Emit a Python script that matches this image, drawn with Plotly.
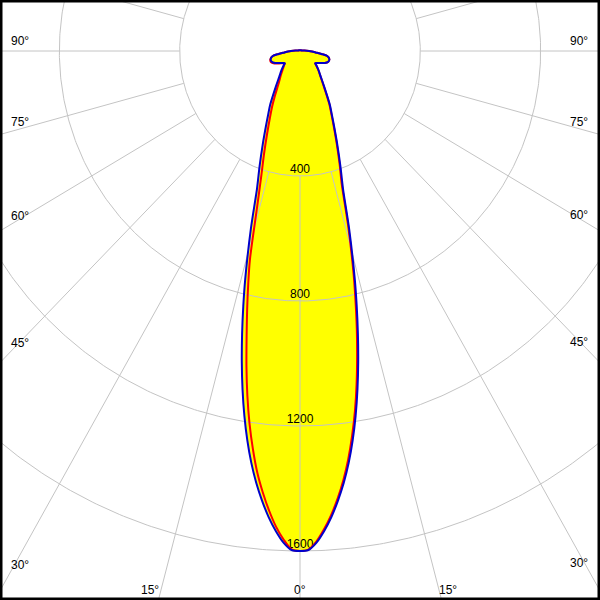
import numpy as np
import plotly.graph_objects as go

# ---- data (gamma angle in degrees, intensity in cd) ----
gamma_deg = [0, 1, 2, 3, 4, 5, 6, 7, 8, 9, 10, 11, 12, 13, 14, 16, 18, 20, 22.5, 25, 27.5, 30,
             35, 40, 45, 50, 52, 55, 60, 65, 70, 75, 80, 82.5, 85, 87.5, 90, 95, 100,
             110, 120, 135, 150, 165, 180]
# C0 / C180 plane (blue)
c0_c180_cd = [1600, 1597, 1574, 1538, 1495, 1445, 1390, 1328, 1258, 1182, 1100, 1014, 926, 838, 753,
              593, 462, 393, 324, 270, 229, 198, 141, 107, 87, 70, 64, 67, 77, 91, 100,
              101, 92, 72, 52, 40, 30, 15, 8, 5, 4.4, 3, 2.5, 2.3, 2.2]
# C90 plane (red, right half)
c90_cd = [1600, 1596, 1570, 1532, 1488, 1437, 1380, 1316, 1244, 1167, 1083, 995, 908, 820, 737,
          580, 450, 385, 318, 265, 225, 194, 138, 106, 86, 70, 64, 67, 77, 91, 100,
          101, 92, 72, 52, 40, 30, 15, 8, 5, 4.4, 3, 2.5, 2.3, 2.2]
# C270 plane (red, left half)
c270_cd = [1600, 1595, 1564, 1524, 1474, 1418, 1357, 1284, 1205, 1118, 1025, 930, 845, 765, 688,
           515, 414, 349, 285, 237, 201, 168, 122, 98, 80, 68, 64, 68, 80, 94, 103,
           102, 92, 72, 52, 40, 30, 15, 8, 5, 4.4, 3, 2.5, 2.3, 2.2]

ring_cd = [400, 800, 1200, 1600]
ring_labels = ["400", "800", "1200", "1600"]
spoke_deg = [0, 15, 30, 45, 60, 75, 90, 105, 120, 135, 150, 165, 180]
label_deg = [0, 15, 30, 45, 60, 75, 90]

# ---- layout geometry ----
W = H = 600
X_HALF = 997.3
Y_TOP = 163.2
Y_BOTTOM = -1756.8
sx = W / (2 * X_HALF)
sy = H / (Y_TOP - Y_BOTTOM)

FONT = dict(family="Liberation Sans, Arial, sans-serif", size=12, color="black")
GRID = "#c4c4c4"


def contour(left, right):
    g = np.radians(gamma_deg)
    l = np.asarray(left, float)
    r = np.asarray(right, float)
    xl, yl = -l * np.sin(g), -l * np.cos(g)
    xr, yr = (r * np.sin(g))[::-1], (-r * np.cos(g))[::-1]
    return np.concatenate([xl, xr]), np.concatenate([yl, yr])


fig = go.Figure()

# yellow filled light distribution
bx, by = contour(c0_c180_cd, c0_c180_cd)
fig.add_trace(go.Scatter(x=bx, y=by, mode="lines", fill="toself", fillcolor="#ffff00",
                         line=dict(width=0, color="rgba(0,0,0,0)", shape="spline", smoothing=0.8),
                         hoverinfo="skip"))

# grid: rings and spokes
gx, gy = [], []
t = np.linspace(0, 2 * np.pi, 721)
for r in ring_cd:
    gx += list(r * np.sin(t)) + [None]
    gy += list(r * np.cos(t)) + [None]
r_in = ring_cd[0]
r_out = 5000
for a in spoke_deg:
    ar = np.radians(a)
    for s in ([1] if a in (0, 180) else [-1, 1]):
        gx += [s * r_in * np.sin(ar), s * r_out * np.sin(ar), None]
        gy += [-r_in * np.cos(ar), -r_out * np.cos(ar), None]
fig.add_trace(go.Scatter(x=gx, y=gy, mode="lines", line=dict(color=GRID, width=1),
                         hoverinfo="skip"))

# ring labels (drawn under the curves)
fig.add_trace(go.Scatter(x=[0] * len(ring_cd), y=[-r for r in ring_cd], mode="text",
                         text=ring_labels, textposition="top center",
                         textfont=FONT, hoverinfo="skip"))

# red and blue curves
rx, ry = contour(c270_cd, c90_cd)
fig.add_trace(go.Scatter(x=rx, y=ry, mode="lines",
                         line=dict(color="#ff0000", width=2, shape="spline", smoothing=0.8),
                         hoverinfo="skip"))
fig.add_trace(go.Scatter(x=bx, y=by, mode="lines",
                         line=dict(color="#0000cc", width=2, shape="spline", smoothing=0.8),
                         hoverinfo="skip"))

# angle labels
ann = []
y_bot_label = Y_BOTTOM + 10.5 / sy
for a in label_deg:
    ar = np.radians(a)
    for s in ([0] if a == 0 else [-1, 1]):
        if a == 0:
            ann.append(dict(x=0, y=y_bot_label, text=f"{a}°", xanchor="center",
                            yanchor="middle"))
            continue
        x_side = s * (X_HALF - (9 if s < 0 else 10) / sx)
        y_side = -abs(x_side) / np.tan(ar) if a != 90 else 0.0
        if y_side >= y_bot_label:
            ann.append(dict(x=x_side, y=y_side, text=f"{a}°",
                            xanchor="left" if s < 0 else "right",
                            yanchor="bottom", yshift=1))
        else:
            xb = s * abs(y_bot_label) * np.tan(ar)
            ann.append(dict(x=xb, y=y_bot_label, text=f"{a}°",
                            xanchor="right" if s < 0 else "left",
                            yanchor="middle", xshift=0 if s < 0 else -2))
for d in ann:
    d.update(showarrow=False, font=FONT, xref="x", yref="y")

fig.update_layout(
    width=W, height=H, margin=dict(l=0, r=0, t=0, b=0),
    paper_bgcolor="white", plot_bgcolor="white", showlegend=False,
    xaxis=dict(range=[-X_HALF, X_HALF], visible=False, fixedrange=True),
    yaxis=dict(range=[Y_BOTTOM, Y_TOP], visible=False, fixedrange=True),
    annotations=ann,
    shapes=[dict(type="rect", xref="paper", yref="paper", x0=0, y0=0, x1=1, y1=1,
                 line=dict(color="black", width=5), fillcolor="rgba(0,0,0,0)")],
)

fig.write_html("out.html", config={"displayModeBar": False},
               post_script="document.body.style.margin='0';document.body.style.overflow='hidden';")
